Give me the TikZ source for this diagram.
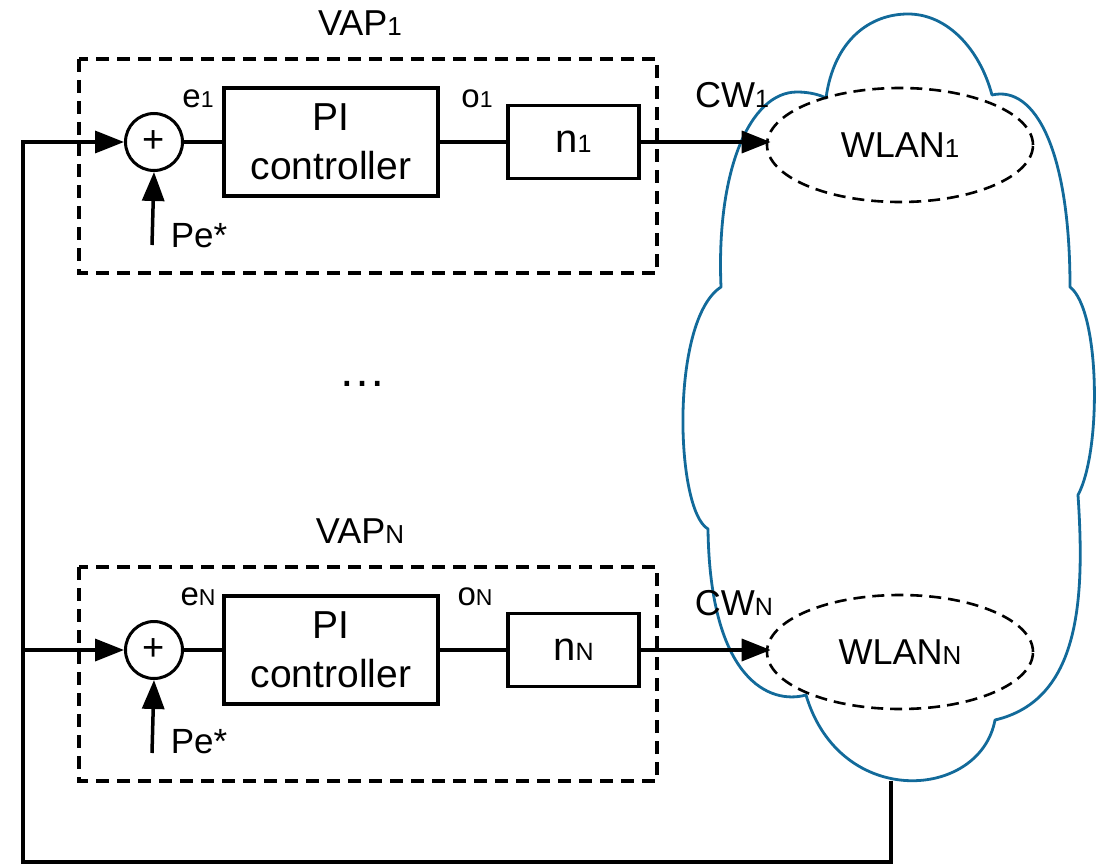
\documentclass[tikz,border=0pt]{standalone}
\usepackage{fontspec}
\setmainfont{Liberation Sans}
\usetikzlibrary{arrows.meta,shapes.geometric}
\definecolor{cloudblue}{RGB}{18,106,154}
% smaller index set on the baseline
\newcommand\lowidx[2]{{\fontsize{#1}{#1}\selectfont #2}}
\begin{document}
\begin{tikzpicture}[x=1pt,y=-1pt,line join=miter,
  wire/.style={line width=3.5pt},
  arr/.style={wire,-{Triangle[length=29pt,width=22pt]}},
  vapbox/.style={line width=3.5pt,dash pattern=on 13pt off 8pt},
  ctrl/.style={draw,line width=3.5pt,minimum width=214pt,minimum height=108pt,
    inner sep=0pt,align=center,font=\fontsize{39}{49}\selectfont},
  gain/.style={draw,line width=3.5pt,minimum width=131pt,minimum height=73pt,
    inner sep=0pt,font=\fontsize{40}{40}\selectfont},
  summer/.style={draw,circle,line width=3pt,minimum size=57pt,inner sep=0pt,
    font=\fontsize{38}{38}\selectfont},
  wlan/.style={draw,ellipse,line width=2.6pt,dash pattern=on 12pt off 7pt,
    minimum width=266pt,minimum height=114pt,inner sep=0pt,
    font=\fontsize{36}{36}\selectfont},
  lbl/.style={inner sep=0pt,font=\fontsize{#1}{#1}\selectfont},
  cloud/.style={draw=cloudblue,line width=2.8pt,line join=round}]

\useasboundingbox (0,0) rectangle (1109,864);

% ---- network cloud ----
\draw[cloud] (826,98)
  .. controls (834,40) and (870,14) .. (908,14)
  .. controls (948,14) and (980,50) .. (992,95)
  .. controls (1035,85) and (1070,150) .. (1070,287)
  .. controls (1100,310) and (1102,450) .. (1078,495)
  .. controls (1085,600) and (1080,700) .. (995,720)
  .. controls (980,800) and (840,810) .. (806,695)
  .. controls (770,705) and (710,680) .. (708,529)
  .. controls (675,510) and (670,320) .. (721,287)
  .. controls (716,170) and (750,92) .. (797,92)
  .. controls (810,92) and (820,95) .. cycle;

% ---- first virtual access point ----
\draw[vapbox] (79,59) rectangle (657,273);
\node[lbl=36] (vap1) at (360,23) {VAP\lowidx{26}{1}};
\node[summer] (sum1) at (154,142) {+};
\node[ctrl] (pi1) at (331,142) {PI\\controller};
\node[gain] (n1) at (573.5,142) {n\lowidx{25}{1}};
\node[lbl=33] (e1) at (198,99) {e\lowidx{23}{1}};
\node[lbl=33] (o1) at (477,99) {o\lowidx{23}{1}};
\node[lbl=35] (pe1) at (199,236) {Pe*};
\coordinate (pe1tail) at (152,245);
\node[wlan] (wlan1) at (900,145) {WLAN\lowidx{26}{1}};
\node[lbl=36] (cw1) at (732,95) {CW\lowidx{25}{1}};

\draw[wire] (sum1.east) -- (pi1.west);
\draw[wire] (pi1.east) -- (n1.west);
\draw[arr] (n1.east) -- ([xshift=5pt]wlan1.west |- n1.east);
\draw[arr] (pe1tail) -- (sum1.south);

% ---- further access points ----
\node[lbl=48] (dots) at (362,384) {…};

% ---- last virtual access point ----
\draw[vapbox] (79,567) rectangle (657,781);
\node[lbl=36] (vapN) at (360,531) {VAP\lowidx{26}{N}};
\node[summer] (sumN) at (154,650) {+};
\node[ctrl] (piN) at (331,650) {PI\\controller};
\node[gain] (nN) at (573.5,650) {n\lowidx{25}{N}};
\node[lbl=33] (eN) at (198,597) {e\lowidx{23}{N}};
\node[lbl=33] (oN) at (475,597) {o\lowidx{23}{N}};
\node[lbl=35] (peN) at (199,742) {Pe*};
\coordinate (peNtail) at (152,753);
\node[wlan] (wlanN) at (900,652) {WLAN\lowidx{26}{N}};
\node[lbl=36] (cwN) at (734,603) {CW\lowidx{25}{N}};

\draw[wire] (sumN.east) -- (piN.west);
\draw[wire] (piN.east) -- (nN.west);
\draw[arr] (nN.east) -- ([xshift=5pt]wlanN.west |- nN.east);
\draw[arr] (peNtail) -- (sumN.south);

% ---- feedback from the cloud to both summing points ----
\coordinate (cb) at (891,781);
\coordinate (fbcorner) at (891,862);
\coordinate (fbleft) at (23,862);
\draw[arr] (cb) -- (fbcorner) -- (fbleft) -- (fbleft |- sum1.west) -- (sum1.west);
\draw[arr] (fbleft |- sumN.west) -- (sumN.west);
\end{tikzpicture}
\end{document}
